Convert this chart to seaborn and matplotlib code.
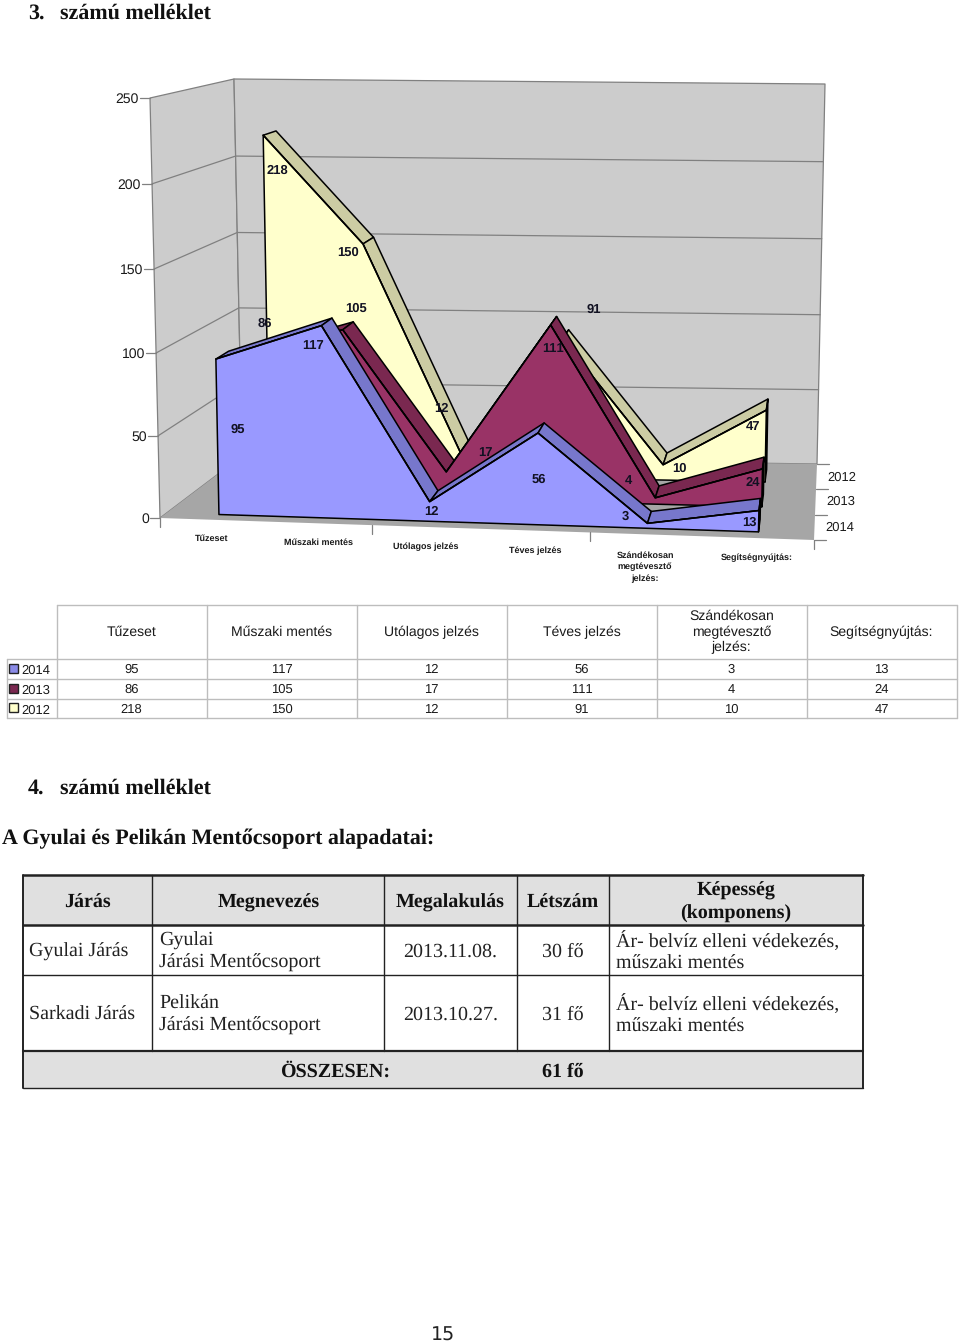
import matplotlib
matplotlib.use("Agg")
import matplotlib.pyplot as plt
from matplotlib.patches import Polygon, Rectangle
import numpy as np
import pandas as pd
import seaborn as sns

# ---------- data ----------
categories = ["Tűzeset", "Műszaki mentés", "Utólagos jelzés", "Téves jelzés",
              "Szándékosan\nmegtévesztő\njelzés:", "Segítségnyújtás:"]
years = ["2014", "2013", "2012"]
v2014 = [95, 117, 12, 56, 3, 13]
v2013 = [86, 105, 17, 111, 4, 24]
v2012 = [218, 150, 12, 91, 10, 47]
value_ticks = [0, 50, 100, 150, 200, 250]

table_title_1 = "3."
page_title_1 = "számú melléklet"
table_title_2 = "4."
subtitle = "A Gyulai és Pelikán Mentőcsoport alapadatai:"
page_number = "15"
t2_header = ["Járás", "Megnevezés", "Megalakulás", "Létszám", "Képesség\n(komponens)"]
t2_row1 = ["Gyulai Járás", "Gyulai\nJárási Mentőcsoport", "2013.11.08.", "30 fő",
           "Ár- belvíz elleni védekezés,\nműszaki mentés"]
t2_row2 = ["Sarkadi Járás", "Pelikán\nJárási Mentőcsoport", "2013.10.27.", "31 fő",
           "Ár- belvíz elleni védekezés,\nműszaki mentés"]
t2_total = ["ÖSSZESEN:", "61 fő"]

# ---------- styles and layout ----------
series_vals = {"2014": v2014, "2013": v2013, "2012": v2012}
face = {"2014": "#9999FF", "2013": "#993366", "2012": "#FFFFCC"}
ribbon = {"2014": "#7777CC", "2013": "#7A2850", "2012": "#CCCCA3"}
key = {"2014": "#8A8AE6", "2013": "#7A2850", "2012": "#FFFFCC"}
SANS = "Liberation Sans"
SERIF = "Liberation Serif"
INK = "#1A1A1A"
# 3D box corners in figure pixels: (u, depth, top)
C = {(0, 0, 0): (160, 518), (1, 0, 0): (814, 540), (0, 1, 0): (242, 456), (1, 1, 0): (817, 464),
     (0, 0, 1): (150, 98), (1, 0, 1): (825, 116), (0, 1, 1): (234, 79), (1, 1, 1): (825, 84)}


def proj(u, d, v):
    """Projection of the chart box to page pixels, with slight perspective along u and v."""
    u = u - 0.011 * np.sin(np.pi * u)
    t = v / 250.0
    t = t - 0.0075 * np.sin(np.pi * t)
    p = np.zeros(2)
    for (a, b, c), xy in C.items():
        w = (u if a else 1 - u) * (d if b else 1 - d) * (t if c else 1 - t)
        p += w * np.array(xy, float)
    return p


sns.set_theme(style="white")
plt.rcParams["font.family"] = [SANS, "DejaVu Sans"]
plt.rcParams["text.hinting"] = "no_hinting"
plt.rcParams["text.hinting_factor"] = 1
fig = plt.figure(figsize=(9.6, 13.43), dpi=100)
ax = fig.add_axes([0, 0, 1, 1])
ax.axis("off")

WALL, FLOOR, GRID = "#CCCCCC", "#A6A6A6", "#808080"
lw_grid = 0.9


def poly(pts, fc, ec="none", lw=0.0, z=1):
    ax.add_patch(Polygon(np.array(pts), closed=True, fc=fc, ec=ec, lw=lw, zorder=z, joinstyle="round"))


# walls and floor
poly([proj(0, 0, 0), proj(0, 1, 0), proj(0, 1, 250), proj(0, 0, 250)], WALL, GRID, lw_grid)
poly([proj(0, 1, 0), proj(1, 1, 0), proj(1, 1, 250), proj(0, 1, 250)], WALL, GRID, lw_grid)
poly([proj(0, 0, 0), proj(1, 0, 0), proj(1, 1, 0), proj(0, 1, 0)], FLOOR, z=1.1)
for v in value_ticks[1:-1]:
    a, b, c = proj(0, 0, v), proj(0, 1, v), proj(1, 1, v)
    ax.plot([a[0], b[0], c[0]], [a[1], b[1], c[1]], color=GRID, lw=lw_grid, zorder=1.2)
for v in value_ticks:
    a = proj(0, 0, v)
    ax.plot([a[0] - 10, a[0]], [a[1], a[1]], color=GRID, lw=lw_grid, zorder=1.2)
    ax.text(a[0] - 11, a[1] + 1, str(v), ha="right", va="center", fontsize=10, color=INK, family=SANS)
for i in (0, 2, 4, 6):
    a = proj(i / 6, 0, 0)
    ax.plot([a[0], a[0]], [a[1], a[1] + 9], color=GRID, lw=lw_grid, zorder=1.2)
for j in range(4):
    a = proj(1, j / 3, 0)
    ax.plot([a[0], a[0] + 12], [a[1], a[1]], color=GRID, lw=lw_grid, zorder=1.2)

# series, back to front
for k, yr in enumerate(["2012", "2013", "2014"]):
    j = years.index(yr)
    d0, d1 = (j + .25) / 3, (j + .75) / 3
    vals = series_vals[yr]
    us = [(i + .5) / 6 for i in range(len(vals))]
    z = 2 + k
    for i in range(len(vals) - 1):
        poly([proj(us[i], d0, vals[i]), proj(us[i + 1], d0, vals[i + 1]),
              proj(us[i + 1], d1, vals[i + 1]), proj(us[i], d1, vals[i])],
             ribbon[yr], "black", 1.1, z)
    poly([proj(us[-1], d0, 0), proj(us[-1], d1, 0), proj(us[-1], d1, vals[-1]), proj(us[-1], d0, vals[-1])],
         "#111111", "black", 1.1, z)
    top = np.array([proj(u, d0, v) for u, v in zip(us, vals)])
    poly([proj(us[0], d0, 0)] + list(top) + [proj(us[-1], d0, 0)], face[yr], "black", 1.1, z + .1)
    edge = pd.DataFrame({"px": top[:, 0], "py": top[:, 1]})
    sns.lineplot(data=edge, x="px", y="py", sort=False, estimator=None, color="black",
                 lw=1.1, ax=ax, zorder=z + .2, legend=False)
ax.set_xlim(0, 960)
ax.set_ylim(1343, 0)
ax.axis("off")

# data labels
label_xy = {"2014": [(238, 429), (313, 345), (431, 511), (539, 479), (625, 515), (749, 521)],
            "2013": [(265, 323), (356, 308), (485, 452), (553, 348), (628, 480), (753, 482)],
            "2012": [(277, 170), (348, 252), (441, 408), (594, 309), (679, 468), (753, 426)]}
for yr in years:
    for (x, y), v in zip(label_xy[yr], series_vals[yr]):
        ax.text(x, y + 1, str(v), ha="center", va="center", fontsize=9.6, fontweight="bold",
                color="#111122", family=SANS, zorder=8)

# category labels under the floor
cat_xy = [(212, 539), (318, 543), (426, 547), (535, 551), (645, 567), (757, 558)]
for (x, y), c in zip(cat_xy, categories):
    ax.text(x, y, c, ha="center", va="center", fontsize=6.6, fontweight="bold", color=INK,
            family=SANS, linespacing=1.45)
for (x, y), yr in zip([(842, 478), (841, 502), (840, 528)], ["2012", "2013", "2014"]):
    ax.text(x, y, yr, ha="center", va="center", fontsize=9.6, color=INK, family=SANS)

# data table
TBL = "#BDBDBD"
col_x = [57, 207, 357, 507, 657, 807, 957]
row_y = [605, 659, 679, 698.5, 718]
ax.plot([col_x[0], col_x[-1]], [row_y[0]] * 2, color=TBL, lw=1)
for y in row_y[1:]:
    ax.plot([7, col_x[-1]], [y, y], color=TBL, lw=1)
for x in col_x:
    ax.plot([x, x], [row_y[0], row_y[-1]], color=TBL, lw=1)
ax.plot([7, 7], [row_y[1], row_y[-1]], color=TBL, lw=1)
for i, c in enumerate(categories):
    xc = (col_x[i] + col_x[i + 1]) / 2 - 0.5
    ax.text(xc, 632, c, ha="center", va="center", fontsize=9.8, color=INK, family=SANS,
            linespacing=1.22)
    for r, yr in enumerate(years):
        ax.text(xc, (row_y[r + 1] + row_y[r + 2]) / 2 + 1, str(series_vals[yr][i]), ha="center",
                va="center", fontsize=9.6, color=INK, family=SANS)
for r, yr in enumerate(years):
    yc = (row_y[r + 1] + row_y[r + 2]) / 2
    ax.add_patch(Rectangle((8.5, yc - 5), 9.5, 9, fc=key[yr], ec="#222222", lw=1))
    ax.text(36, yc + 2, yr, ha="center", va="center", fontsize=9.6, color=INK, family=SANS)

# headings
TS = 15.8
for x, y, s in [(28, 13, table_title_1), (60, 13, page_title_1), (28, 788, table_title_2),
                (60, 788, page_title_1), (2, 839, subtitle)]:
    ax.text(x, y, s, ha="left", va="center", fontsize=TS, fontweight="bold", family=SERIF, color="#111111")

# second table
cx = [23, 152, 384, 517, 609, 863]
ry = [875, 925, 975, 1051, 1088]
FILL = "#E0E0E0"
ax.add_patch(Rectangle((cx[0], ry[0]), cx[-1] - cx[0], ry[1] - ry[0], fc=FILL, ec="none"))
ax.add_patch(Rectangle((cx[0], ry[3]), cx[-1] - cx[0], ry[4] - ry[3], fc=FILL, ec="none"))
DK = "#222222"
for y, w in [(ry[0], 1.8), (ry[1], 1.8), (ry[2], 1.0), (ry[3], 1.6), (ry[4], 1.0)]:
    ax.plot([cx[0], cx[-1]], [y, y], color=DK, lw=w)
for x in cx[1:-1]:
    ax.plot([x, x], [ry[0], ry[3]], color=DK, lw=1.0)
ax.plot([cx[0]] * 2, [ry[0], ry[4]], color=DK, lw=1.4)
ax.plot([cx[-1]] * 2, [ry[0], ry[4]], color=DK, lw=1.4)
FS = 14.6
LS = 1.32
hx = [87, 268.5, 450.5, 563, 736]
for x, h in zip(hx, t2_header):
    ax.text(x, 902.5, h, ha="center", va="center", fontsize=FS, fontweight="bold", family=SERIF,
            color="#111111", linespacing=LS)
for row, yc in ((t2_row1, 952), (t2_row2, 1015)):
    ax.text(29, yc, row[0], ha="left", va="center", fontsize=FS, family=SERIF, color="#222222")
    ax.text(159, yc, row[1], ha="left", va="center", fontsize=FS, family=SERIF, color="#222222", linespacing=LS)
    ax.text(450.5, yc, row[2], ha="center", va="center", fontsize=FS, family=SERIF, color="#222222")
    ax.text(563, yc, row[3], ha="center", va="center", fontsize=FS, family=SERIF, color="#222222")
    ax.text(616, yc, row[4], ha="left", va="center", fontsize=FS, family=SERIF, color="#222222", linespacing=LS)
ax.text(335, 1071.5, t2_total[0], ha="center", va="center", fontsize=FS, fontweight="bold", family=SERIF, color="#111111")
ax.text(563, 1071.5, t2_total[1], ha="center", va="center", fontsize=FS, fontweight="bold", family=SERIF, color="#111111")

ax.text(443, 1335, page_number, ha="center", va="center", fontsize=13.5, family="DejaVu Sans", color="#222222")

fig.savefig("out.png", dpi=100)
